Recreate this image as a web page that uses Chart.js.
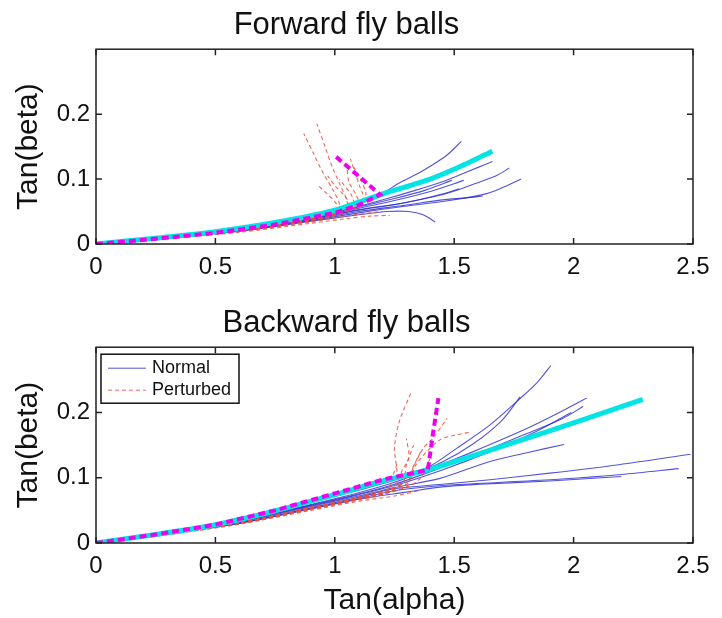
<!DOCTYPE html>
<html>
<head>
<meta charset="utf-8">
<script src="https://cdn.jsdelivr.net/npm/chart.js@4.4.1/dist/chart.umd.min.js"></script>
<style>
  body { margin: 0; background: #fff; }
  #wrap { position: relative; width: 722px; height: 618px; }
  canvas { position: absolute; left: 0; }
  #fwd { top: 0; }
  #bwd { top: 300px; }
</style>
</head>
<body>
<div id="wrap">
  <canvas id="fwd" width="722" height="300"></canvas>
  <canvas id="bwd" width="722" height="318"></canvas>
</div>
<script>
// tick labels
var xTicks = [0, 0.5, 1, 1.5, 2, 2.5];
var yTicks = [0, 0.1, 0.2];

// Forward fly balls: [tan(alpha), tan(beta)] pairs per trial
var fwdNormal = [
  [[0,0],[0.3,0.011],[0.6,0.023],[0.9,0.042],[1.1,0.062],[1.19,0.076],[1.27,0.094],[1.35,0.109],[1.41,0.122],[1.47,0.137],[1.53,0.158]],
  [[0,0],[0.3,0.011],[0.6,0.022],[0.9,0.041],[1.1,0.058],[1.22,0.07],[1.34,0.083],[1.45,0.096],[1.52,0.106],[1.6,0.118],[1.66,0.127]],
  [[0,0],[0.3,0.010],[0.6,0.021],[0.9,0.039],[1.1,0.052],[1.27,0.062],[1.44,0.075],[1.53,0.085],[1.61,0.096],[1.68,0.106],[1.73,0.117]],
  [[0,0],[0.3,0.010],[0.6,0.020],[0.9,0.036],[1.1,0.048],[1.27,0.057],[1.48,0.067],[1.64,0.078],[1.71,0.088],[1.78,0.1]],
  [[0,0],[0.3,0.010],[0.6,0.020],[0.9,0.037],[1.1,0.050],[1.3,0.060],[1.45,0.068],[1.55,0.071],[1.62,0.074]],
  [[0,0],[0.3,0.010],[0.6,0.020],[0.9,0.035],[1.1,0.045],[1.22,0.050],[1.31,0.050],[1.37,0.045],[1.42,0.034]],
  [[0,0],[0.3,0.011],[0.6,0.022],[0.9,0.041],[1.1,0.057],[1.25,0.070],[1.38,0.083],[1.49,0.098]],
  [[0,0],[0.3,0.011],[0.6,0.021],[0.9,0.040],[1.1,0.055],[1.25,0.067],[1.4,0.081],[1.54,0.098]],
  [[0,0],[0.3,0.010],[0.6,0.021],[0.9,0.038],[1.1,0.053],[1.3,0.064],[1.45,0.077],[1.52,0.085]]
];
var fwdPerturbed = [
  [[0,0],[0.3,0.010],[0.6,0.020],[0.9,0.037],[1.0,0.046],[1.02,0.06],[0.99,0.085],[0.95,0.11],[0.91,0.14],[0.87,0.17]],
  [[0,0],[0.3,0.010],[0.6,0.020],[0.9,0.037],[1.05,0.052],[1.05,0.067],[1.02,0.093],[0.99,0.118],[0.96,0.149],[0.925,0.185]],
  [[0,0],[0.3,0.010],[0.6,0.021],[0.9,0.039],[1.1,0.056],[1.12,0.072],[1.105,0.088],[1.085,0.11],[1.065,0.131]],
  [[0,0],[0.3,0.010],[0.6,0.020],[0.9,0.036],[1.03,0.048],[1.0,0.065],[0.96,0.08],[0.93,0.09]],
  [[0,0],[0.3,0.010],[0.6,0.020],[0.9,0.037],[1.08,0.055],[1.07,0.075],[1.04,0.09],[1.02,0.10]],
  [[0,0],[0.3,0.009],[0.6,0.018],[0.9,0.032],[1.05,0.039],[1.15,0.043],[1.23,0.044]],
  [[0,0],[0.3,0.009],[0.6,0.019],[0.9,0.034],[1.05,0.043],[1.15,0.048],[1.2,0.05]],
  [[0,0],[0.3,0.010],[0.6,0.021],[0.9,0.039],[1.12,0.062],[1.13,0.078],[1.11,0.098],[1.08,0.118]],
  [[0,0],[0.3,0.010],[0.6,0.020],[0.9,0.038],[1.06,0.054],[1.05,0.07],[1.0,0.09],[0.97,0.105]],
  [[0,0],[0.3,0.010],[0.6,0.021],[0.9,0.039],[1.1,0.058],[1.09,0.075],[1.06,0.095],[1.05,0.12]]
];
var fwdNormalMean = [[0,0],[0.25,0.009],[0.5,0.019],[0.75,0.033],[1.0,0.052],[1.2,0.077],[1.4,0.1],[1.53,0.12],[1.66,0.143]];
var fwdPerturbedMean = [[0,0],[0.25,0.008],[0.5,0.017],[0.75,0.030],[1.0,0.048],[1.1,0.060],[1.19,0.076],[1.0,0.136]];

// Backward fly balls
var bwdNormal = [
  [[0,0],[0.3,0.016],[0.6,0.036],[0.9,0.063],[1.1,0.083],[1.3,0.104],[1.4,0.118],[1.51,0.145],[1.65,0.181],[1.79,0.226],[1.85,0.247],[1.905,0.272]],
  [[0,0],[0.3,0.016],[0.6,0.035],[0.9,0.062],[1.1,0.081],[1.3,0.102],[1.45,0.124],[1.58,0.152],[1.7,0.188],[1.776,0.224]],
  [[0,0],[0.3,0.015],[0.6,0.034],[0.9,0.059],[1.1,0.077],[1.25,0.093],[1.41,0.115],[1.58,0.14],[1.79,0.173],[1.93,0.198],[2.055,0.222]],
  [[0,0],[0.3,0.015],[0.6,0.033],[0.9,0.058],[1.1,0.075],[1.25,0.09],[1.42,0.112],[1.6,0.137],[1.8,0.167],[1.95,0.19],[2.04,0.209]],
  [[0,0],[0.3,0.015],[0.6,0.033],[0.9,0.057],[1.1,0.074],[1.25,0.088],[1.45,0.112],[1.65,0.14],[1.85,0.172],[1.99,0.2]],
  [[0,0],[0.3,0.015],[0.6,0.032],[0.9,0.056],[1.1,0.072],[1.25,0.085],[1.44,0.099],[1.65,0.125],[1.8,0.138],[1.96,0.151]],
  [[0,0],[0.3,0.014],[0.6,0.031],[0.9,0.054],[1.1,0.07],[1.25,0.083],[1.45,0.09],[1.65,0.097],[1.9,0.107],[2.19,0.12],[2.49,0.136]],
  [[0,0],[0.3,0.014],[0.6,0.030],[0.9,0.053],[1.1,0.068],[1.25,0.08],[1.45,0.088],[1.7,0.093],[1.95,0.098],[2.2,0.105],[2.44,0.114]],
  [[0,0],[0.3,0.014],[0.6,0.030],[0.9,0.052],[1.1,0.067],[1.3,0.078],[1.45,0.086],[1.61,0.09],[1.9,0.095],[2.2,0.102]]
];
var bwdPerturbed = [
  [[0,0],[0.3,0.014],[0.6,0.031],[0.9,0.054],[1.1,0.069],[1.25,0.082],[1.26,0.11],[1.25,0.145],[1.27,0.186],[1.32,0.231]],
  [[0,0],[0.3,0.014],[0.6,0.031],[0.9,0.055],[1.1,0.071],[1.3,0.093],[1.33,0.117],[1.37,0.145],[1.41,0.16],[1.47,0.191]],
  [[0,0],[0.3,0.014],[0.6,0.030],[0.9,0.053],[1.1,0.069],[1.3,0.09],[1.34,0.12],[1.385,0.14],[1.44,0.158],[1.5,0.165],[1.57,0.17]],
  [[0,0],[0.3,0.014],[0.6,0.031],[0.9,0.054],[1.1,0.07],[1.28,0.09],[1.3,0.12],[1.33,0.15]],
  [[0,0],[0.3,0.014],[0.6,0.030],[0.9,0.053],[1.1,0.068],[1.3,0.086],[1.32,0.11],[1.36,0.14]],
  [[0,0],[0.3,0.013],[0.6,0.029],[0.9,0.051],[1.1,0.066],[1.22,0.078],[1.24,0.1],[1.26,0.12]],
  [[0,0],[0.3,0.013],[0.6,0.029],[0.9,0.05],[1.1,0.064],[1.25,0.072],[1.35,0.08]],
  [[0,0],[0.3,0.014],[0.6,0.030],[0.9,0.052],[1.1,0.067],[1.3,0.085],[1.36,0.1],[1.4,0.13]],
  [[0,0],[0.3,0.014],[0.6,0.030],[0.9,0.053],[1.1,0.069],[1.27,0.088],[1.28,0.11],[1.31,0.13],[1.3,0.16]]
];
var bwdNormalMean = [[0,0],[0.25,0.013],[0.5,0.028],[0.75,0.049],[1.0,0.074],[1.2,0.095],[1.4,0.113],[1.6,0.136],[1.8,0.16],[2.05,0.19],[2.29,0.22]];
var bwdPerturbedMean = [[0,0],[0.25,0.013],[0.5,0.028],[0.75,0.05],[1.0,0.076],[1.2,0.097],[1.39,0.112],[1.41,0.165],[1.434,0.222]];

var BLUE = "rgba(40, 40, 205, 0.8)";
var RED = "rgba(232, 80, 60, 0.85)";
var CYAN = "rgb(0, 228, 228)";
var MAGENTA = "rgb(238, 0, 238)";
var FONT = "'Liberation Sans', Arial, sans-serif";

Chart.defaults.font.family = FONT;
Chart.defaults.color = "#111";

function pts(c) {
  return c.map(function (p) { return { x: p[0], y: p[1] }; });
}

function buildSets(normal, perturbed, normalMean, perturbedMean) {
  var sets = [];
  normal.forEach(function (c) {
    sets.push({ data: pts(c), borderColor: BLUE, borderWidth: 1.1, tension: 0.3, order: 3 });
  });
  perturbed.forEach(function (c) {
    sets.push({ data: pts(c), borderColor: RED, borderWidth: 1.1, borderDash: [4, 3], tension: 0.3, order: 2 });
  });
  sets.push({ data: pts(normalMean), borderColor: CYAN, borderWidth: 5, tension: 0.2, order: 1 });
  sets.push({ data: pts(perturbedMean), borderColor: MAGENTA, borderWidth: 4, borderDash: [7, 4], tension: 0, order: 0 });
  sets.forEach(function (s) { s.showLine = true; s.pointRadius = 0; s.fill = false; });
  return sets;
}

// matlab style box with inward ticks
var boxPlugin = {
  id: "box",
  afterDatasetsDraw: function (chart) {
    var a = chart.chartArea, ctx = chart.ctx;
    var xs = chart.scales.x, ys = chart.scales.y;
    ctx.save();
    ctx.strokeStyle = "#222";
    ctx.lineWidth = 1.5;
    ctx.strokeRect(a.left, a.top, a.right - a.left, a.bottom - a.top);
    ctx.beginPath();
    xTicks.forEach(function (v) {
      var px = xs.getPixelForValue(v);
      ctx.moveTo(px, a.bottom); ctx.lineTo(px, a.bottom - 6);
      ctx.moveTo(px, a.top); ctx.lineTo(px, a.top + 6);
    });
    yTicks.forEach(function (v) {
      var py = ys.getPixelForValue(v);
      ctx.moveTo(a.left, py); ctx.lineTo(a.left + 6, py);
      ctx.moveTo(a.right, py); ctx.lineTo(a.right - 6, py);
    });
    ctx.stroke();
    ctx.restore();
  }
};

var legendPlugin = {
  id: "boxLegend",
  afterDraw: function (chart) {
    var ctx = chart.ctx;
    var a = chart.chartArea;
    var x0 = a.left + 5, y0 = a.top + 7, w = 138, h = 49;
    ctx.save();
    ctx.fillStyle = "#fff";
    ctx.fillRect(x0, y0, w, h);
    ctx.strokeStyle = "#111";
    ctx.lineWidth = 1.5;
    ctx.strokeRect(x0, y0, w, h);
    var rows = [["Normal", BLUE, []], ["Perturbed", RED, [4, 3]]];
    ctx.font = "18px " + FONT;
    ctx.textBaseline = "middle";
    rows.forEach(function (r, i) {
      var cy = y0 + 14 + i * 22;
      ctx.beginPath();
      ctx.setLineDash(r[2]);
      ctx.strokeStyle = r[1];
      ctx.lineWidth = 1;
      ctx.moveTo(x0 + 7, cy); ctx.lineTo(x0 + 45, cy);
      ctx.stroke();
      ctx.setLineDash([]);
      ctx.fillStyle = "#111";
      ctx.fillText(r[0], x0 + 51, cy);
    });
    ctx.restore();
  }
};

function makePanel(id, title, titlePad, xHeight, xTitle, sets, plugins) {
  var ctx = document.getElementById(id).getContext("2d");
  return new Chart(ctx, {
    type: "scatter",
    data: { datasets: sets },
    plugins: plugins,
    options: {
      responsive: false,
      animation: false,
      devicePixelRatio: 1,
      events: [],
      layout: { padding: { left: 0, right: 29, top: 0, bottom: 0 } },
      plugins: {
        legend: { display: false },
        tooltip: { enabled: false },
        title: {
          display: true,
          text: title,
          color: "#111",
          font: { size: 31, weight: "normal", lineHeight: 1.2 },
          padding: titlePad
        }
      },
      scales: {
        x: {
          type: "linear",
          min: 0,
          max: 2.5,
          grid: { display: false, drawTicks: false },
          border: { display: false },
          afterBuildTicks: function (s) { s.ticks = xTicks.map(function (v) { return { value: v }; }); },
          ticks: { font: { size: 24 }, color: "#111", padding: 9, maxRotation: 0,
                   callback: function (v) { return String(v); } },
          title: { display: !!xTitle, text: xTitle, color: "#111", font: { size: 30, lineHeight: 1 }, padding: { top: 0, bottom: 2 } },
          afterFit: function (s) { s.height = xHeight; }
        },
        y: {
          type: "linear",
          min: 0,
          max: 0.3,
          grid: { display: false, drawTicks: false },
          border: { display: false },
          afterBuildTicks: function (s) { s.ticks = yTicks.map(function (v) { return { value: v }; }); },
          ticks: { font: { size: 24 }, color: "#111", padding: 6,
                   callback: function (v) { return String(v); } },
          title: { display: true, text: "Tan(beta)", color: "#111", font: { size: 30, lineHeight: 1.2 }, padding: { top: 11, bottom: 0 } },
          afterFit: function (s) { s.width = 96; }
        }
      }
    }
  });
}

var fwdChart = makePanel("fwd", "Forward fly balls", { top: 7, bottom: 5 }, 56, "",
  buildSets(fwdNormal, fwdPerturbed, fwdNormalMean, fwdPerturbedMean), [boxPlugin]);

var bwdChart = makePanel("bwd", "Backward fly balls", { top: 4.5, bottom: 5.5 }, 75, "Tan(alpha)",
  buildSets(bwdNormal, bwdPerturbed, bwdNormalMean, bwdPerturbedMean), [boxPlugin, legendPlugin]);
</script>
</body>
</html>
